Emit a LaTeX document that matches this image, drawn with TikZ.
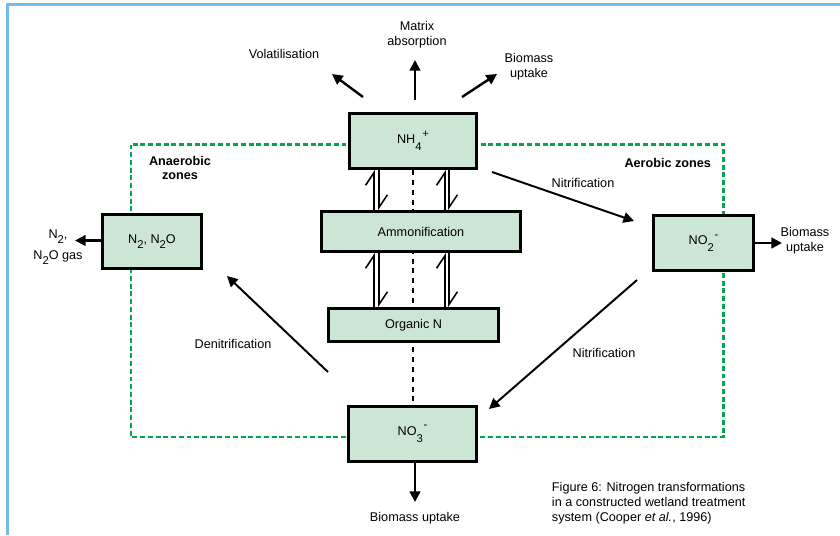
\documentclass[tikz,border=0pt]{standalone}
\usepackage{fontspec}
\setmainfont{Liberation Sans}
\usetikzlibrary{arrows.meta, backgrounds}
\definecolor{boxgreen}{RGB}{204,230,214}
\definecolor{zonegreen}{RGB}{0,166,81}
\definecolor{frameblue}{RGB}{116,189,235}
\newcommand{\ionlbl}[3]{#1\rlap{\raisebox{-1.1ex}{\footnotesize #2}}\hspace{0.55em}\raisebox{0.9ex}{\footnotesize #3}}
\newcommand{\sbs}[1]{\raisebox{-0.8ex}{\footnotesize #1}}

\begin{document}
\begin{tikzpicture}[x=0.025cm, y=-0.025cm,
  every node/.style={font=\fontsize{9}{10.6}\selectfont},
  pool/.style={draw, line width=2.2pt, fill=boxgreen, inner sep=0pt},
  flow/.style={-{Triangle[length=7.5pt,width=7.5pt]}, line width=1.7pt},
  rev/.style={line width=1.1pt, -{Straight Barb[harpoon,length=9pt,width=12pt]}},
  zone/.style={zonegreen, line width=2pt, dash pattern=on 3.5pt off 2pt},
  zonelabel/.style={font=\fontsize{9}{9.6}\selectfont\bfseries, align=center}]
\useasboundingbox (0,0) rectangle (840,535);
% page frame
\draw[frameblue, line width=1.6pt] (7.5,535) -- (7.5,4.5) -- (840,4.5);
% pools
\node[pool, minimum width=3.175cm, minimum height=1.375cm] (nh4) at (413,141) {\ionlbl{NH}{4}{+}};
\node[pool, minimum width=4.975cm, minimum height=1.0cm] (ammon) at (421,231.5) {Ammonification};
\node[pool, minimum width=4.25cm, minimum height=0.825cm] (orgn) at (413.5,325) {Organic N};
\node[pool, minimum width=2.475cm, minimum height=1.35cm] (n2o) at (152,241.5) {N\sbs{2}, N\sbs{2}O};
\node[pool, minimum width=2.5cm, minimum height=1.375cm] (no2) at (703.5,243) {\ionlbl{NO}{2}{-}};
\node[pool, minimum width=3.2cm, minimum height=1.375cm] (no3) at (412.5,434) {\ionlbl{NO}{3}{-}};
% zones and centre line behind the pools
\begin{scope}[on background layer]
\draw[zone] (131,144.5) rectangle (723.5,437);
\draw[line width=2pt, dash pattern=on 3.5pt off 3.5pt] (nh4.south) -- (nh4.south |- no3.north);
\end{scope}
\node[zonelabel] (anaer) at (180,168) {Anaerobic\\zones};
\node[zonelabel, anchor=east] (aer) at (716,163) {Aerobic zones};
% reversible steps
\foreach \u/\d [count=\i] in {374/379, 445/449}{
  \coordinate (up\i) at (\u,0);
  \coordinate (dn\i) at (\d,0);
  \draw[rev] (ammon.north -| up\i) -- (nh4.south -| up\i);
  \draw[rev] (nh4.south -| dn\i) -- (ammon.north -| dn\i);
  \draw[rev] (orgn.north -| up\i) -- (ammon.south -| up\i);
  \draw[rev] (ammon.south -| dn\i) -- (orgn.north -| dn\i);
}
% losses from NH4
\coordinate (volS) at (363,97);
\coordinate (volE) at (332,74);
\coordinate (matS) at (415,100);
\coordinate (matE) at (415,60);
\coordinate (bioS) at (462,97);
\coordinate (bioE) at (497,74);
\draw[flow] (volS) -- (volE);
\draw[flow] (matS) -- (matE);
\draw[flow] (bioS) -- (bioE);
\node (vol) at (284,54) {Volatilisation};
\node[align=center] (mat) at (417,35) {Matrix\\absorption};
\node[align=center] (bioT) at (529,67) {Biomass\\uptake};
% nitrification / denitrification
\coordinate (nitAS) at (492,172);
\coordinate (nitAE) at (634,221);
\coordinate (nitBS) at (637,280);
\coordinate (nitBE) at (489,409);
\coordinate (denS) at (328,372);
\coordinate (denE) at (227,276);
\draw[flow, line width=1.4pt] (nitAS) -- (nitAE);
\draw[flow, line width=1.4pt] (nitBS) -- (nitBE);
\draw[flow, line width=1.4pt] (denS) -- (denE);
\node (nit1) at (583,183) {Nitrification};
\node (nit2) at (604,353) {Nitrification};
\node (denit) at (233,344) {Denitrification};
% outputs
\coordinate (gasE) at (75,240.5);
\coordinate (no2E) at (782,243);
\coordinate (no3E) at (415,502);
\draw[flow] (n2o.west |- gasE) -- (gasE);
\draw[flow] (no2.east) -- (no2E);
\draw[flow] (no3.south -| no3E) -- (no3E);
\node[align=center, font=\fontsize{9}{15}\selectfont] (gas) at (58,247) {N\sbs{2},\\N\sbs{2}O gas};
\node[align=center] (bioR) at (805,241) {Biomass\\uptake};
\node (bioB) at (415,518) {Biomass uptake};
% caption
\node[align=left, anchor=west] (cap) at (547,503) {Figure 6: Nitrogen transformations\\in a constructed wetland treatment\\system (Cooper \textit{et al.}, 1996)};
\end{tikzpicture}
\end{document}
